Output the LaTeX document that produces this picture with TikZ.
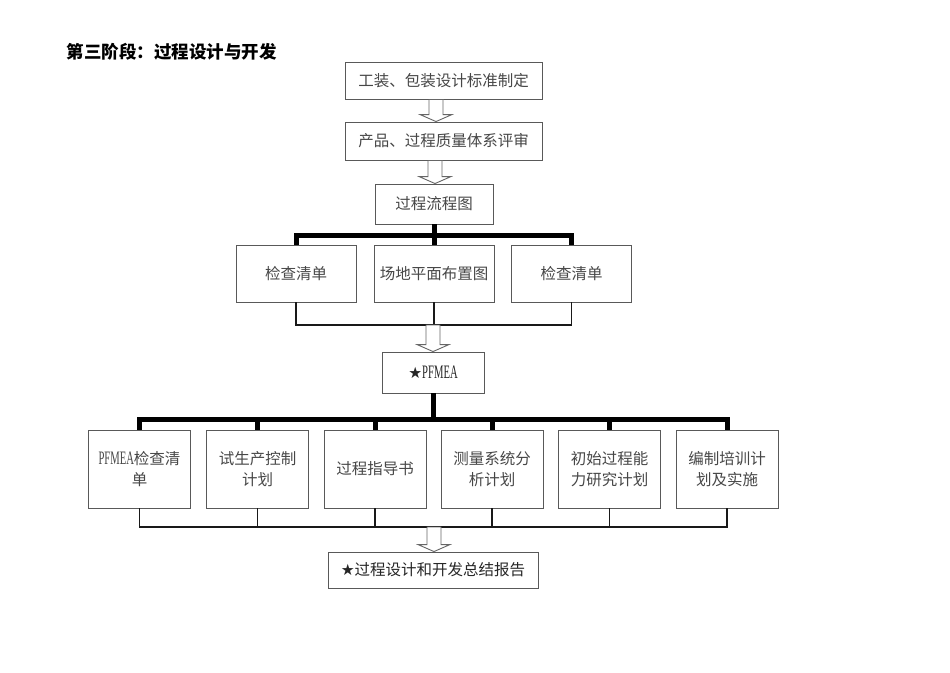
\documentclass[tikz,border=0pt]{standalone}
\usepackage{fontspec}
\setmainfont{Noto Sans CJK SC}
\newfontfamily\latf{Liberation Serif}[FakeStretch=0.56]
\newcommand\lat{\latf\fontsize{19}{21}\selectfont}
\newfontfamily\sym{DejaVu Sans}
\usetikzlibrary{calc}
\newcommand\harrow[3]{%
  \draw[hollowarrow] let \p1=(#2), \p2=(#3) in
    (#1pt-7pt,\y1) -- (#1pt-7pt,\y2+7pt) -- (#1pt-16pt,\y2+7pt) -- (#1pt,\y2)
    -- (#1pt+16pt,\y2+7pt) -- (#1pt+7pt,\y2+7pt) -- (#1pt+7pt,\y1) -- cycle;}
\begin{document}
\begin{tikzpicture}[x=1pt,y=-1pt,
  box/.style={draw=black!65, line width=0.9pt, fill=white, inner sep=0pt, align=center,
    text=black!72, font=\fontsize{15.5}{21}\selectfont},
  hollowarrow/.style={draw=black!60, fill=white, line width=0.9pt},
  thickbar/.style={line width=5pt, black},
  thinline/.style={line width=1.7pt, black!90},
  rowtwo/.style={box, minimum width=120, minimum height=57},
  rowthree/.style={box, minimum width=102, minimum height=78, text width=100}]
\useasboundingbox (0,0) rectangle (950,672);
\node[anchor=west, font=\fontsize{17.5}{20}\selectfont\bfseries] (title) at (63,52) {第三阶段：过程设计与开发};

\node[box, minimum width=197, minimum height=37] (b1) at (443.5,80.5) {工装、包装设计标准制定};
\node[box, minimum width=197, minimum height=38] (b2) at (443.5,141) {产品、过程质量体系评审};
\node[box, minimum width=118, minimum height=40] (b3) at (434,204) {过程流程图};
\harrow{436}{b1.south}{b2.north}
\harrow{435}{b2.south}{b3.north}

\node[rowtwo] (r1) at (296,273.5) {检查清单};
\node[rowtwo] (r2) at (434,273.5) {场地平面布置图};
\node[rowtwo] (r3) at (571.5,273.5) {检查清单};
\coordinate (bar1) at (434,235);
\draw[thickbar] (b3.south) -- (bar1);
\draw[thickbar] (r1.north) |- (bar1) -| (r3.north);
\draw[thickbar] (r2.north) -- (r2.north |- bar1);

\coordinate (col1) at (434,325);
\draw[thinline] (r1.south) |- (col1) -| (r3.south);
\draw[thinline] (r2.south) -- (r2.south |- col1);

\node[box, minimum width=102, minimum height=41, text=black!85] (p) at (433,372.5) {{\sym ★}{\lat PFMEA}};
\harrow{433}{col1}{p.north}

\node[rowthree] (s1) at (139.5,469) {{\lat PFMEA}检查清\\单};
\node[rowthree] (s2) at (257.5,469) {试生产控制\\计划};
\node[rowthree] (s3) at (375,469) {过程指导书};
\node[rowthree] (s4) at (492,469) {测量系统分\\析计划};
\node[rowthree] (s5) at (609.5,469) {初始过程能\\力研究计划};
\node[rowthree] (s6) at (727,469) {编制培训计\\划及实施};

\coordinate (bar2) at (433,419);
\draw[thickbar] (p.south) -- (bar2);
\draw[thickbar] (s1.north) |- (bar2) -| (s6.north);
\foreach \n in {s2,s3,s4,s5} \draw[thickbar] (\n.north) -- (\n.north |- bar2);

\coordinate (col2) at (433,527);
\draw[thinline] (s1.south) |- (col2) -| (s6.south);
\foreach \n in {s2,s3,s4,s5} \draw[thinline] (\n.south) -- (\n.south |- col2);

\node[box, minimum width=210, minimum height=36, text=black!85] (f) at (433,570) {{\sym ★}过程设计和开发总结报告};
\harrow{434}{col2}{f.north}
\end{tikzpicture}
\end{document}
